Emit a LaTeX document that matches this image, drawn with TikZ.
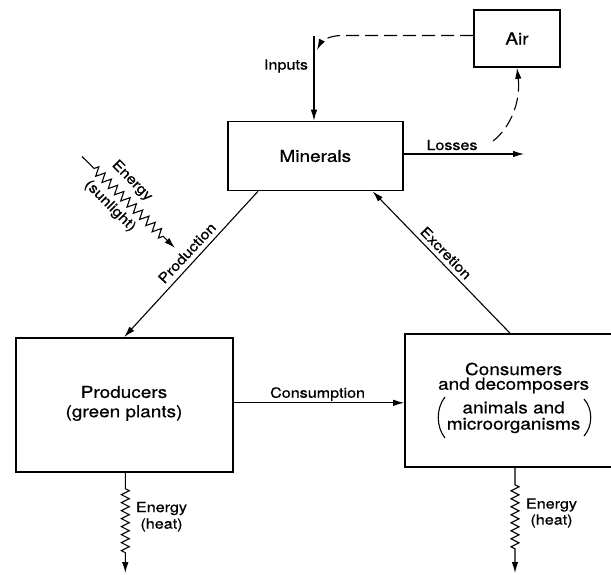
\documentclass[tikz,border=0pt]{standalone}
\usepackage{fontspec}
\setmainfont{TeX Gyre Heros}[FakeStretch=1.15,FakeBold=0.6]
\usetikzlibrary{arrows.meta,decorations.pathmorphing,calc}
\begin{document}
\begin{tikzpicture}[x=1pt,y=-1pt,
  box/.style={draw, line width=1.7pt, inner sep=0pt},
  conn/.style={line width=1.1pt},
  arr/.style={conn, -{Latex[length=11pt,width=6.5pt]}},
  dsh/.style={arr, dash pattern=on 13pt off 6pt},
  big/.style={font=\fontsize{16.5}{19}\selectfont, inner sep=0pt},
  small/.style={font=\fontsize{14}{16}\selectfont, inner sep=0pt},
  paren/.style={line width=1.1pt}]
\useasboundingbox (0,0) rectangle (611,574);
% boxes
\node[box, big, minimum width=175pt, minimum height=69pt] (min) at (315.3,156) {Minerals};
\node[box, big, minimum width=86pt, minimum height=57pt] (air) at (517,38.5) {Air};
\node[box, minimum width=217pt, minimum height=134pt] (prod) at (124.3,404.8) {};
\node[box, minimum width=218pt, minimum height=133pt] (cons) at (514,400.5) {};
% box texts
\node[big] (prodA) at (124,392) {Producers};
\node[big] (prodB) at (124,413) {(green plants)};
\node[big] (consA) at (513.6,369) {Consumers};
\node[big] (consB) at (513.6,385.5) {and decomposers};
\node[big] (consC) at (513.6,407.5) {animals and};
\node[big] (consD) at (513.6,425.5) {microorganisms};
\draw[paren] (445,397) .. controls (436,408) and (436,427) .. (445,438);
\draw[paren] (584,399) .. controls (593,409) and (593,426) .. (584,436);
% inputs
\coordinate (inTop) at (314,36);
\coordinate (inHit) at (317,50);
\draw[arr] (inTop) -- (inTop |- min.north);
\node[small] (inLbl) at (286,66) {Inputs};
\draw[dsh] ([yshift=3pt]air.west) -- (342,35.5) .. controls (328,35.5) and (321,42) .. (inHit);
% losses
\coordinate (lossEnd) at (524,154);
\draw[arr] ([yshift=2pt]min.east) -- (lossEnd);
\node[small] (lossLbl) at (452,145) {Losses};
\coordinate (lossCurve) at (493,141);
\draw[dsh] (lossCurve) .. controls (510,128) and (521,102) .. (air.south);
% production
\draw[arr] ([xshift=31pt]min.south west) -- (prod.north);
\node[small, rotate=47] (prodLbl) at (187,253) {Production};
% excretion
\draw[arr] ([xshift=-4pt]cons.north) -- ([xshift=-31pt]min.south east);
\node[small, rotate=-46] (excLbl) at (446,253) {Excretion};
% consumption
\coordinate (cs) at ([yshift=2pt]prod.east);
\draw[arr] (cs) -- (cs -| cons.west);
\node[small] (consLbl) at (317.6,394) {Consumption};
% sunlight
\coordinate (sunS) at (82,156.5);
\coordinate (sunE) at (175,248);
\draw[arr, decorate, decoration={zigzag, segment length=8.8pt, amplitude=4.5pt, pre length=17pt, post length=16pt}] (sunS) -- (sunE);
\node[small, rotate=-45] (sunA) at (132,181) {Energy};
\node[small, rotate=-45] (sunB) at (110,206) {(sunlight)};
% heat
\coordinate (h1) at ([xshift=1pt]prod.south);
\coordinate (h1e) at (125.3,573);
\draw[arr, decorate, decoration={zigzag, segment length=8pt, amplitude=4pt, pre length=16pt, post length=18pt}] (h1) -- (h1e);
\node[small] (h1A) at (161.5,508.5) {Energy};
\node[small] (h1B) at (161.5,525) {(heat)};
\coordinate (h2) at ([xshift=1pt]cons.south);
\coordinate (h2e) at (515,573);
\draw[arr, decorate, decoration={zigzag, segment length=8pt, amplitude=4pt, pre length=17pt, post length=22pt}] (h2) -- (h2e);
\node[small] (h2A) at (551.5,505) {Energy};
\node[small] (h2B) at (551.5,521) {(heat)};
\end{tikzpicture}
\end{document}
